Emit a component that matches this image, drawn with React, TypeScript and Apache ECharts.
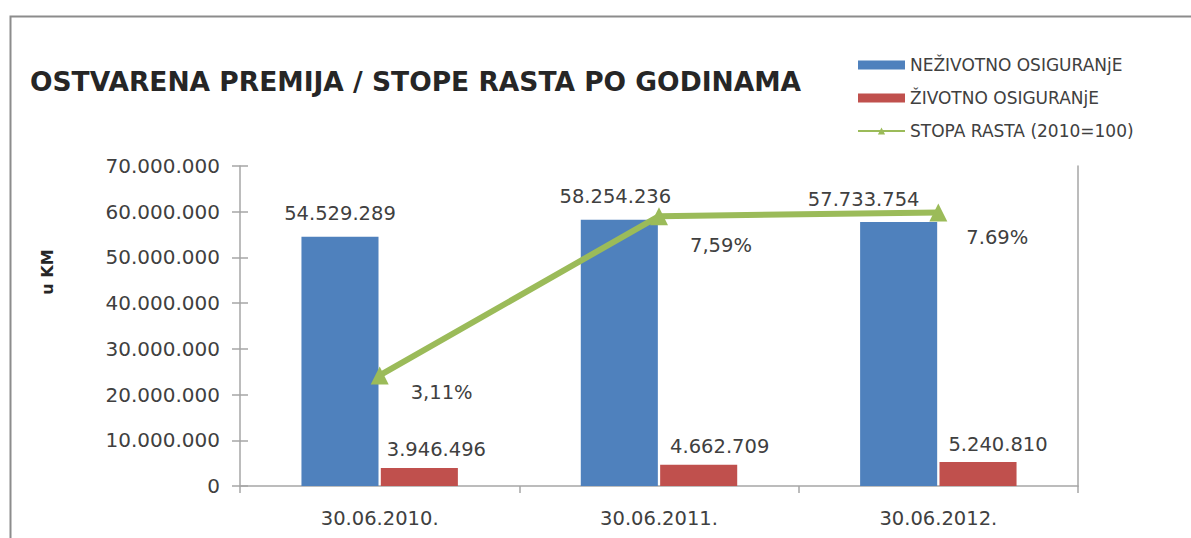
import React, { useEffect, useRef } from "react";
import * as echarts from "echarts";

const categories = ["30.06.2010.", "30.06.2011.", "30.06.2012."];
const nezivotno = [54529289, 58254236, 57733754];
const zivotno = [3946496, 4662709, 5240810];
const stopaRasta = [3.11, 7.59, 7.69];
const stopaLabels = ["3,11%", "7,59%", "7.69%"];
const seriesNames = ["NEŽIVOTNO OSIGURANjE", "ŽIVOTNO OSIGURANjE", "STOPA RASTA (2010=100)"];
const titleText = "OSTVARENA PREMIJA / STOPE RASTA PO GODINAMA";
const yAxisName = "u KM";

const FONT = "DejaVu Sans";
const fmt = (v: number) => String(Math.round(v)).replace(/\B(?=(\d{3})+(?!\d))/g, ".");

export default function App() {
  const ref = useRef<HTMLDivElement>(null);
  useEffect(() => {
    if (!ref.current) return;
    const chart = echarts.init(ref.current, null, { renderer: "svg" });
    const blueOffsets = [[0, 0], [-4, 0], [-35, 0]];
    const redOffsets = [[17, 0], [21, 0], [20, 0]];
    const lineOffsets = [[22, 17], [22, 29], [19, 25]];
    const axisColor = "#a6a6a6";
    const textColor = "#404040";
    chart.setOption({
      animation: false,
      backgroundColor: "#ffffff",
      textStyle: { fontFamily: FONT },
      title: {
        text: titleText,
        left: 30,
        top: 68,
        padding: 0,
        textStyle: { fontFamily: FONT, fontSize: 26.5, fontWeight: "bold", color: "#262626" },
      },
      legend: {
        orient: "vertical",
        left: 857,
        top: 55,
        padding: 0,
        itemGap: 13,
        itemWidth: 47,
        itemHeight: 9,
        textStyle: { fontFamily: FONT, fontSize: 17, color: textColor, lineHeight: 20 },
        data: [
          { name: seriesNames[0], icon: "rect" },
          { name: seriesNames[1], icon: "rect" },
          { name: seriesNames[2] },
        ],
      },
      graphic: [
        {
          type: "rect",
          left: 8,
          top: 14,
          shape: { width: 1220, height: 600 },
          style: { fill: "none", stroke: "#8c8c8c", lineWidth: 2 },
          z: 0,
        },
        {
          type: "text",
          x: 47,
          y: 272,
          rotation: Math.PI / 2,
          style: {
            text: yAxisName,
            fontFamily: FONT,
            fontSize: 16,
            fontWeight: "bold",
            fill: "#262626",
            align: "center",
            verticalAlign: "middle",
          },
        },
      ],
      grid: { left: 240, right: 113, top: 166, bottom: 52, containLabel: false },
      xAxis: {
        type: "category",
        data: categories,
        axisLine: { lineStyle: { color: axisColor, width: 1.5 } },
        axisTick: { show: true, length: 7, lineStyle: { color: axisColor, width: 1.5 } },
        axisLabel: { margin: 22, fontFamily: FONT, fontSize: 19.5, color: textColor },
      },
      yAxis: [
        {
          type: "value",
          min: 0,
          max: 70000000,
          interval: 10000000,
          axisLine: { show: true, lineStyle: { color: axisColor, width: 1.5 } },
          axisTick: { show: true, length: 8, lineStyle: { color: axisColor, width: 1.5 } },
          axisLabel: { margin: 20, fontFamily: FONT, fontSize: 20, color: textColor, formatter: (v: number) => fmt(v) },
          splitLine: { show: false },
        },
        {
          type: "value",
          min: 0,
          max: 9,
          interval: 1,
          position: "right",
          axisLine: { show: true, lineStyle: { color: axisColor, width: 1.5 } },
          axisTick: { show: false },
          axisLabel: { show: false },
          splitLine: { show: false },
        },
        {
          type: "value",
          min: 0,
          max: 70000000,
          interval: 10000000,
          position: "left",
          axisLine: { show: false },
          axisTick: { show: true, inside: true, length: 8, lineStyle: { color: axisColor, width: 1.5 } },
          axisLabel: { show: false },
          splitLine: { show: false },
        },
      ],
      series: [
        {
          name: seriesNames[0],
          type: "bar",
          yAxisIndex: 0,
          barCategoryGap: "44%",
          barGap: "3%",
          itemStyle: { color: "#4f81bd" },
          data: nezivotno.map((v, i) => ({
            value: v,
            label: { offset: blueOffsets[i] },
          })),
          label: {
            show: true,
            position: "top",
            distance: 13,
            fontFamily: FONT,
            fontSize: 19.5,
            color: textColor,
            formatter: (p: any) => fmt(p.value),
          },
          z: 2,
        },
        {
          name: seriesNames[1],
          type: "bar",
          yAxisIndex: 0,
          barCategoryGap: "44%",
          barGap: "3%",
          itemStyle: { color: "#c0504d" },
          data: zivotno.map((v, i) => ({
            value: v,
            label: { offset: redOffsets[i] },
          })),
          label: {
            show: true,
            position: "top",
            distance: 8,
            fontFamily: FONT,
            fontSize: 19.5,
            color: textColor,
            formatter: (p: any) => fmt(p.value),
          },
          z: 2,
        },
        {
          name: seriesNames[2],
          type: "line",
          yAxisIndex: 1,
          symbol: "triangle",
          symbolSize: 18,
          lineStyle: { color: "#9bbb59", width: 6 },
          itemStyle: { color: "#9bbb59" },
          data: stopaRasta.map((v, i) => ({
            value: v,
            label: { offset: lineOffsets[i] },
          })),
          label: {
            show: true,
            position: "right",
            distance: 0,
            fontFamily: FONT,
            fontSize: 19.5,
            color: textColor,
            formatter: (p: any) => stopaLabels[p.dataIndex],
          },
          z: 5,
        },
      ],
    });
    return () => chart.dispose();
  }, []);
  return (
    <div
      ref={ref}
      style={{ position: "fixed", left: 0, top: 0, width: 1191, height: 538 }}
    />
  );
}
